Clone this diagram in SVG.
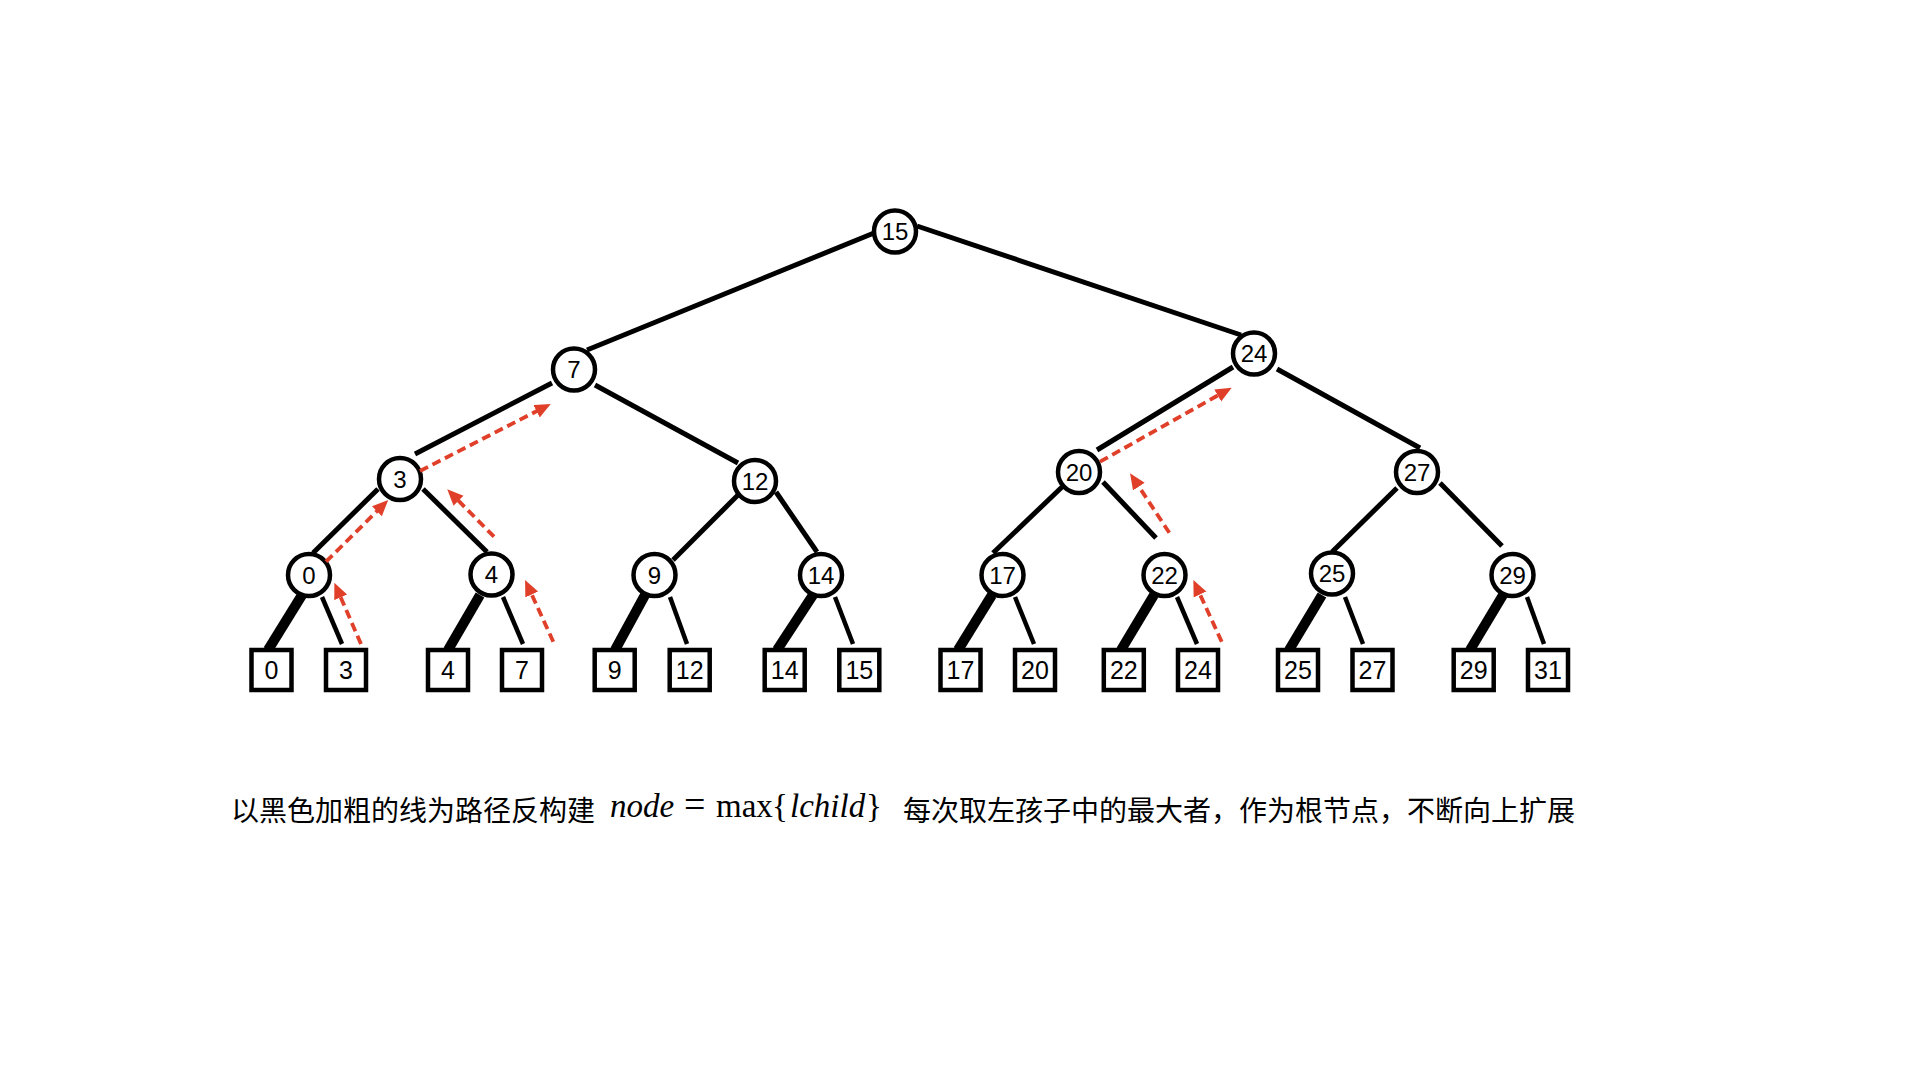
<svg xmlns="http://www.w3.org/2000/svg" width="1920" height="1080" viewBox="0 0 1920 1080">
<style>
.edge{stroke:#000;stroke-width:5;fill:none;stroke-linecap:butt}
.thin{stroke:#000;stroke-width:4.5;fill:none}
.thick{stroke:#000;stroke-width:10;fill:none}
.arrow{stroke:#E0402A;stroke-width:3.8;fill:none;stroke-dasharray:9 5;marker-end:url(#ah)}
.node circle{fill:#fff;stroke:#000;stroke-width:4.5}
.leaf rect{fill:#fff;stroke:#000;stroke-width:4.5}
.lbl{font-family:"Liberation Sans",Arial,sans-serif;font-size:24px;text-anchor:middle;fill:#000}
.leaf .lbl{font-size:25px}
.cjk{font-family:"Liberation Sans","Noto Sans CJK SC",sans-serif;font-size:28px;fill:#000}
.math{font-family:"Liberation Serif","Times New Roman",serif;font-size:33px;fill:#000}
.it{font-style:italic}
.eq{font-size:38px}
</style>
<defs>
<marker id="ah" markerUnits="userSpaceOnUse" markerWidth="18" markerHeight="16" refX="1" refY="7" orient="auto">
<path d="M0,0 L16,7 L0,14 z" fill="#E0402A"/>
</marker>
</defs>
<rect width="1920" height="1080" fill="#fff"/>
<g id="connectors">
<line class="edge" x1="874" y1="233" x2="587" y2="350"/>
<line class="edge" x1="917" y1="226" x2="1241" y2="335"/>
<line class="edge" x1="552" y1="383" x2="415" y2="454"/>
<line class="edge" x1="595" y1="385" x2="738" y2="463"/>
<line class="edge" x1="1233" y1="367" x2="1097" y2="450"/>
<line class="edge" x1="1277" y1="369" x2="1420" y2="448"/>
<line class="edge" x1="378" y1="489" x2="313" y2="553"/>
<line class="edge" x1="423" y1="489" x2="487" y2="552"/>
<line class="edge" x1="738" y1="495" x2="673" y2="560"/>
<line class="edge" x1="776" y1="492" x2="817" y2="552"/>
<line class="edge" x1="1062" y1="487" x2="993" y2="553"/>
<line class="edge" x1="1103" y1="482" x2="1156" y2="538"/>
<line class="edge" x1="1397" y1="488" x2="1332" y2="552"/>
<line class="edge" x1="1440" y1="483" x2="1502" y2="546"/>
<line class="thick" x1="302" y1="595" x2="268" y2="650"/>
<line class="thin" x1="322" y1="597" x2="342" y2="644"/>
<line class="thick" x1="480" y1="595" x2="448" y2="650"/>
<line class="thin" x1="503" y1="597" x2="523" y2="644"/>
<line class="thick" x1="645" y1="595" x2="615" y2="650"/>
<line class="thin" x1="670" y1="597" x2="687" y2="644"/>
<line class="thick" x1="813" y1="595" x2="777" y2="650"/>
<line class="thin" x1="835" y1="597" x2="853" y2="644"/>
<line class="thick" x1="992" y1="595" x2="958" y2="650"/>
<line class="thin" x1="1015" y1="597" x2="1034" y2="644"/>
<line class="thick" x1="1154" y1="595" x2="1121" y2="650"/>
<line class="thin" x1="1177" y1="597" x2="1197" y2="644"/>
<line class="thick" x1="1322" y1="595" x2="1289" y2="650"/>
<line class="thin" x1="1345" y1="597" x2="1363" y2="644"/>
<line class="thick" x1="1503" y1="595" x2="1470" y2="650"/>
<line class="thin" x1="1527" y1="597" x2="1544" y2="644"/>
</g>
<g id="nodes">
<g id="n15" class="node"><circle cx="895" cy="231.5" r="21"/><text class="lbl" x="895" y="240">15</text></g>
<g id="n7" class="node"><circle cx="574" cy="369.5" r="21"/><text class="lbl" x="574" y="378">7</text></g>
<g id="n24" class="node"><circle cx="1254" cy="353.5" r="21"/><text class="lbl" x="1254" y="362">24</text></g>
<g id="n3" class="node"><circle cx="400" cy="479" r="21"/><text class="lbl" x="400" y="487.5">3</text></g>
<g id="n12" class="node"><circle cx="755" cy="481" r="21"/><text class="lbl" x="755" y="489.5">12</text></g>
<g id="n20" class="node"><circle cx="1079" cy="472" r="21"/><text class="lbl" x="1079" y="480.5">20</text></g>
<g id="n27" class="node"><circle cx="1417" cy="472" r="21"/><text class="lbl" x="1417" y="480.5">27</text></g>
<g id="n0" class="node"><circle cx="309" cy="575" r="21"/><text class="lbl" x="309" y="583.5">0</text></g>
<g id="n4" class="node"><circle cx="491.5" cy="574.5" r="21"/><text class="lbl" x="491.5" y="583">4</text></g>
<g id="n9" class="node"><circle cx="654.5" cy="575" r="21"/><text class="lbl" x="654.5" y="583.5">9</text></g>
<g id="n14" class="node"><circle cx="821" cy="575" r="21"/><text class="lbl" x="821" y="583.5">14</text></g>
<g id="n17" class="node"><circle cx="1002.5" cy="575" r="21"/><text class="lbl" x="1002.5" y="583.5">17</text></g>
<g id="n22" class="node"><circle cx="1164.5" cy="575" r="21"/><text class="lbl" x="1164.5" y="583.5">22</text></g>
<g id="n25" class="node"><circle cx="1332" cy="573.5" r="21"/><text class="lbl" x="1332" y="582">25</text></g>
<g id="n29" class="node"><circle cx="1512.5" cy="575" r="21"/><text class="lbl" x="1512.5" y="583.5">29</text></g>
</g>
<g id="leaves">
<g id="l0" class="leaf"><rect x="251.5" y="650" width="40" height="40"/><text class="lbl" x="271.5" y="679">0</text></g>
<g id="l3" class="leaf"><rect x="326" y="650" width="40" height="40"/><text class="lbl" x="346" y="679">3</text></g>
<g id="l4" class="leaf"><rect x="428" y="650" width="40" height="40"/><text class="lbl" x="448" y="679">4</text></g>
<g id="l7" class="leaf"><rect x="502" y="650" width="40" height="40"/><text class="lbl" x="522" y="679">7</text></g>
<g id="l9" class="leaf"><rect x="594.7" y="650" width="40" height="40"/><text class="lbl" x="614.7" y="679">9</text></g>
<g id="l12" class="leaf"><rect x="669.7" y="650" width="40" height="40"/><text class="lbl" x="689.7" y="679">12</text></g>
<g id="l14" class="leaf"><rect x="764.7" y="650" width="40" height="40"/><text class="lbl" x="784.7" y="679">14</text></g>
<g id="l15" class="leaf"><rect x="839.3" y="650" width="40" height="40"/><text class="lbl" x="859.3" y="679">15</text></g>
<g id="l17" class="leaf"><rect x="940.5" y="650" width="40" height="40"/><text class="lbl" x="960.5" y="679">17</text></g>
<g id="l20" class="leaf"><rect x="1015" y="650" width="40" height="40"/><text class="lbl" x="1035" y="679">20</text></g>
<g id="l22" class="leaf"><rect x="1103.8" y="650" width="40" height="40"/><text class="lbl" x="1123.8" y="679">22</text></g>
<g id="l24" class="leaf"><rect x="1178" y="650" width="40" height="40"/><text class="lbl" x="1198" y="679">24</text></g>
<g id="l25" class="leaf"><rect x="1278" y="650" width="40" height="40"/><text class="lbl" x="1298" y="679">25</text></g>
<g id="l27" class="leaf"><rect x="1352.5" y="650" width="40" height="40"/><text class="lbl" x="1372.5" y="679">27</text></g>
<g id="l29" class="leaf"><rect x="1453.7" y="650" width="40" height="40"/><text class="lbl" x="1473.7" y="679">29</text></g>
<g id="l31" class="leaf"><rect x="1528" y="650" width="40" height="40"/><text class="lbl" x="1548" y="679">31</text></g>
</g>
<g id="paths">
<line class="arrow" x1="361" y1="644" x2="340.3" y2="596.4"/>
<line class="arrow" x1="326" y1="561.7" x2="377.6" y2="510.5"/>
<line class="arrow" x1="494" y1="536.7" x2="457.8" y2="500"/>
<line class="arrow" x1="553.3" y1="641.7" x2="531.3" y2="593.6"/>
<line class="arrow" x1="420" y1="471" x2="537.4" y2="410.8"/>
<line class="arrow" x1="1100" y1="461.7" x2="1218.6" y2="395"/>
<line class="arrow" x1="1169.3" y1="532.7" x2="1138.3" y2="485.8"/>
<line class="arrow" x1="1221.7" y1="641.7" x2="1199.6" y2="593.6"/>
</g>
<g id="caption">
<text class="cjk" x="231" y="821">以黑色加粗的线为路径反构建</text>
<text class="math" y="817"><tspan class="it" x="610">node</tspan><tspan class="eq" x="684">=</tspan><tspan x="716">max</tspan><tspan x="772">{</tspan><tspan class="it" x="790">lchild</tspan><tspan x="866">}</tspan></text>
<text class="cjk" x="903" y="821">每次取左孩子中的最大者，作为根节点，不断向上扩展</text>
</g>
</svg>
